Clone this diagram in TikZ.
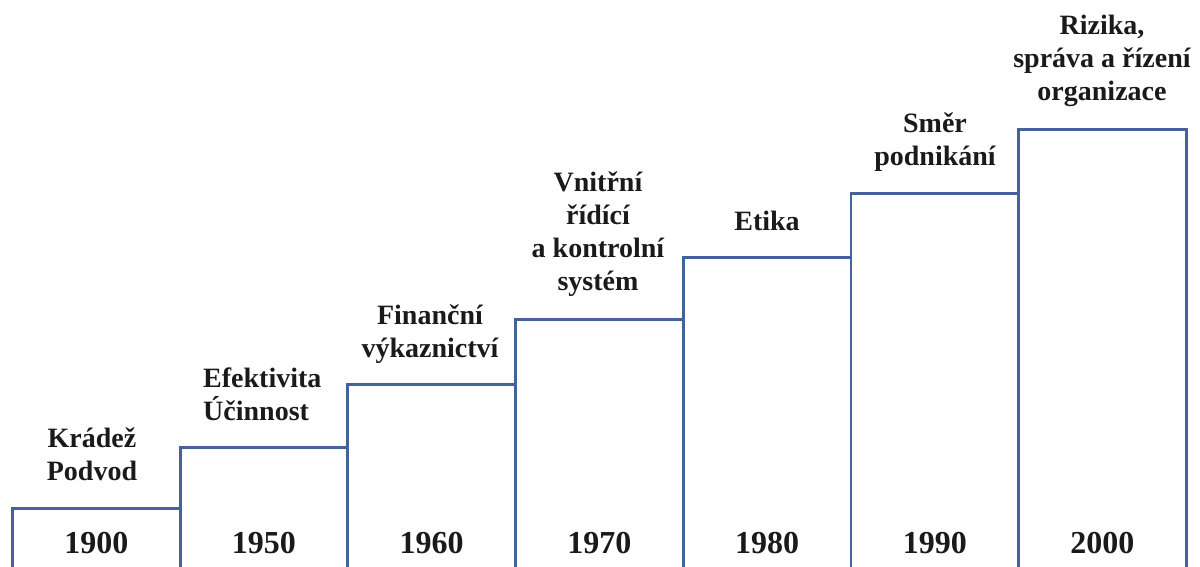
\documentclass[tikz,border=0pt]{standalone}
\usepackage{fontspec}
\setmainfont{Liberation Serif}
\definecolor{barline}{HTML}{45639A}
\definecolor{txt}{HTML}{1A1A1A}
\begin{document}
\begin{tikzpicture}[x=1pt,y=-1pt,
  bar/.style={draw=barline,line width=2.8pt,fill=white,inner sep=0pt,anchor=north west,minimum width=167.7pt},
  year/.style={font=\fontsize{32pt}{36pt}\selectfont\bfseries,text=txt,anchor=base,inner sep=0pt},
  lbl/.style={font=\fontsize{28pt}{33pt}\selectfont\bfseries,text=txt,anchor=base,inner sep=0pt,align=center}]
\useasboundingbox (0,0) rectangle (1200,566);
\clip (0,0) rectangle (1200,566);
\node[bar,minimum height=80pt] (b1) at (11,507) {};
\node[bar,minimum height=141pt] (b2) at (178.7,446) {};
\node[bar,minimum height=204pt] (b3) at (346.4,383) {};
\node[bar,minimum height=269pt] (b4) at (514.1,318) {};
\node[bar,minimum height=331pt] (b5) at (681.8,256) {};
\node[bar,minimum height=395pt] (b6) at (849.5,192) {};
\node[bar,minimum height=459pt] (b7) at (1017.2,128) {};
\node[year] (y1) at (b1.north |- 0,553) {1900};
\node[year] (y2) at (b2.north |- 0,553) {1950};
\node[year] (y3) at (b3.north |- 0,553) {1960};
\node[year] (y4) at (b4.north |- 0,553) {1970};
\node[year] (y5) at (b5.north |- 0,553) {1980};
\node[year] (y6) at (b6.north |- 0,553) {1990};
\node[year] (y7) at (b7.north |- 0,553) {2000};
\node[lbl] (l1) at (92,480) {Krádež\\Podvod};
\node[lbl,anchor=base west,align=left] (l2) at (203,420) {Efektivita\\Účinnost};
\node[lbl] (l3) at (430,357) {Finanční\\výkaznictví};
\node[lbl] (l4) at (598,290) {Vnitřní\\řídící\\a kontrolní\\systém};
\node[lbl] (l5) at (767,230) {Etika};
\node[lbl] (l6) at (935,165) {Směr\\podnikání};
\node[lbl] (l7) at (1102,100) {Rizika,\\správa a řízení\\organizace};
\end{tikzpicture}
\end{document}
